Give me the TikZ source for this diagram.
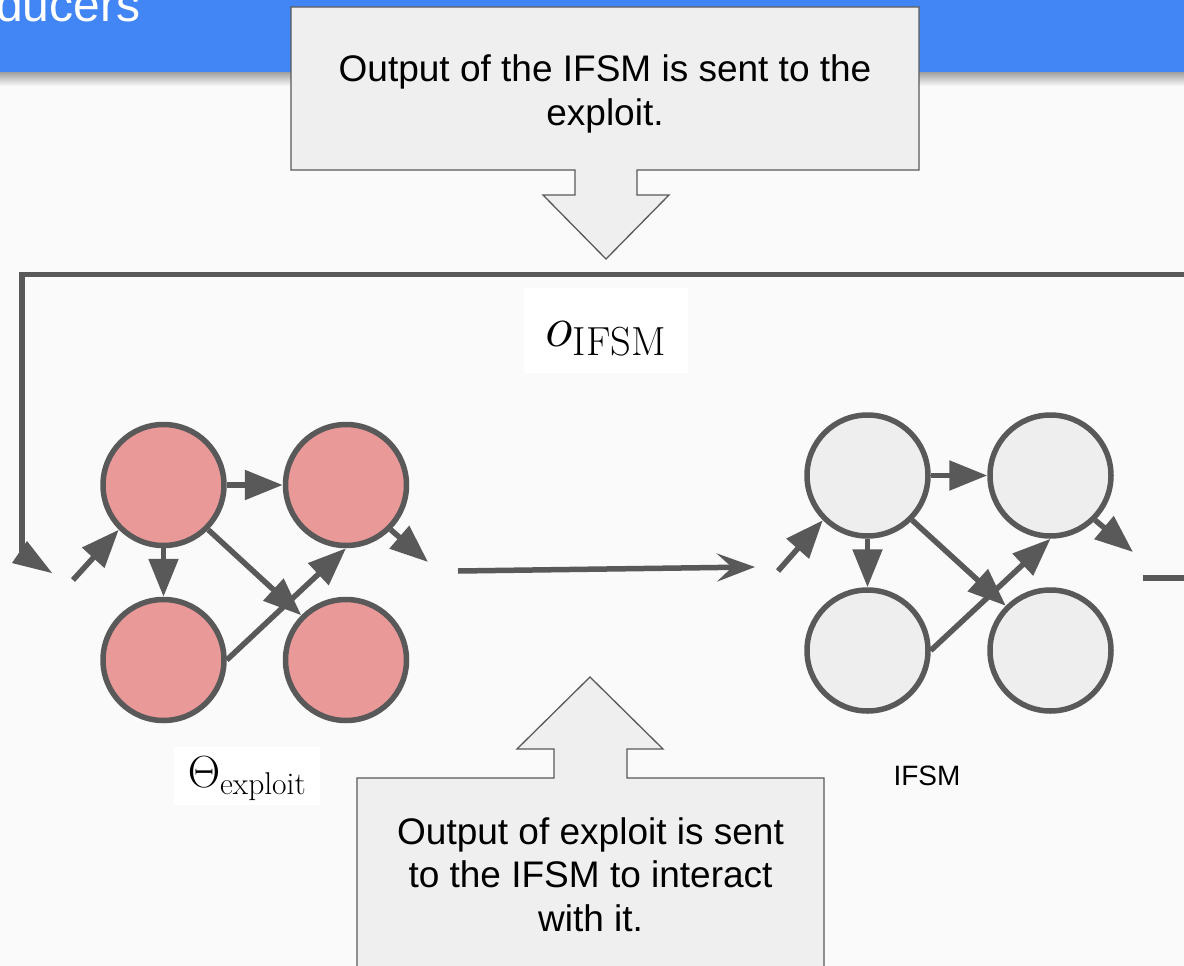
\RequirePackage{fix-cm}
\documentclass[tikz,border=0pt]{standalone}
\usepackage{fontspec}
\newfontfamily\uisans{Liberation Sans}
\usetikzlibrary{arrows.meta}
\definecolor{edgegray}{HTML}{595959}
\definecolor{nodered}{HTML}{EA9999}
\definecolor{nodegray}{HTML}{EEEEEE}
\definecolor{calloutfill}{HTML}{EFEFEF}
\definecolor{pagebg}{HTML}{FAFAFA}
\definecolor{headerblue}{HTML}{4285F4}
\begin{document}
\begin{tikzpicture}[x=1pt,y=-1pt,
  state/.style={circle, draw=edgegray, line width=5.5pt, minimum size=121pt, inner sep=0pt},
  redstate/.style={state, fill=nodered},
  graystate/.style={state, fill=nodegray},
  wire/.style={draw=edgegray, line width=5.5pt},
  link/.style={wire, -{Triangle[length=38pt,width=29pt]}},
  callout/.style={fill=calloutfill, draw=edgegray, line width=1.3pt, line join=miter},
  callouttext/.style={font=\uisans\fontsize{37}{43.5}\selectfont, align=center, inner sep=0pt, anchor=base},
  mathlabel/.style={fill=white, inner sep=0pt}
]
\useasboundingbox (0,0) rectangle (1184,966);
\fill[pagebg] (0,0) rectangle (1184,966);

% header band with its shadow
\fill[headerblue] (0,0) rectangle (1184,73);
\shade[top color=black!35, bottom color=pagebg] (0,73) rectangle (1184,86);
\node[anchor=base west, text=white, font=\uisans\fontsize{48}{52}\selectfont, inner sep=0pt] (title) at (-4,22) {ducers};

% upper callout pointing down (the node base is its last line)
\draw[callout] (291,7) -- (919,7) -- (919,170) -- (637,170) -- (637,195) -- (669,195)
  -- (606,259) -- (543,195) -- (575,195) -- (575,170) -- (291,170) -- cycle;
\node[callouttext] (topnote) at (605,125) {Output of the IFSM is sent to the\\exploit.};

% feedback loop from the IFSM back to the exploit
\coordinate (loopstart) at (1190,274.5);
\coordinate (loopend) at (22,552);
\draw[wire] (loopstart) -| (loopend);
\fill[edgegray] (12,563) -- (27,541) -- (52,573) -- cycle;

\node[mathlabel, minimum width=164pt, minimum height=85pt, text height=41pt, text depth=9pt,
  font=\fontsize{58}{62}\selectfont] (olabel) at (606,330.5) {$o_{\mathrm{IFSM}}$};

% exploit automaton
\node[redstate] (a1) at (163.5,485) {};
\node[redstate] (a2) at (346,485) {};
\node[redstate] (a3) at (163.5,660) {};
\node[redstate] (a4) at (346,660) {};
\coordinate (ain) at (73,580);
\coordinate (aout) at (428,562);
\draw[link] (ain) -- (a1.-135);
\draw[link] (a1.east) -- (a2.west);
\draw[link] (a1.south) -- (a3.north);
\draw[link] (a1.-45) -- (a4.135);
\draw[link] (a3.east) -- (a2.south);
\draw[link] (a2.-45) -- (aout);

% IFSM automaton
\node[graystate] (b1) at (867.5,475.5) {};
\node[graystate] (b2) at (1050.5,475.5) {};
\node[graystate] (b3) at (867.5,650.5) {};
\node[graystate] (b4) at (1050.5,650.5) {};
\coordinate (bin) at (778,571);
\coordinate (bout) at (1133,552);
\draw[link] (bin) -- (b1.-135);
\draw[link] (b1.east) -- (b2.west);
\draw[link] (b1.south) -- (b3.north);
\draw[link] (b1.-45) -- (b4.135);
\draw[link] (b3.east) -- (b2.south);
\draw[link] (b2.-45) -- (bout);
\coordinate (btail) at (1143,578);
\coordinate (bedge) at (1190,578);
\draw[wire] (btail) -- (bedge);

% exploit output fed to the IFSM
\coordinate (midstart) at (458,571);
\coordinate (midend) at (755,567);
\draw[wire, -{Stealth[length=38pt,width=28pt,inset=15pt]}] (midstart) -- (midend);

\node[mathlabel, minimum width=146pt, minimum height=58pt, text height=31pt, text depth=8pt,
  font=\fontsize{45}{48}\selectfont] (thlabel) at (247,776) {$\Theta_{\mathrm{exploit}}$};
\node[font=\uisans\fontsize{28}{32}\selectfont, anchor=base, inner sep=0pt] (iflabel) at (927,785) {IFSM};

% lower callout pointing up (the node base is its last line)
\draw[callout] (357,1000) -- (357,778) -- (554,778) -- (554,749) -- (517,749) -- (590,677)
  -- (663,749) -- (627,749) -- (627,778) -- (824,778) -- (824,1000) -- cycle;
\node[callouttext] (botnote) at (590.5,931) {Output of exploit is sent\\to the IFSM to interact\\with it.};
\end{tikzpicture}
\end{document}
